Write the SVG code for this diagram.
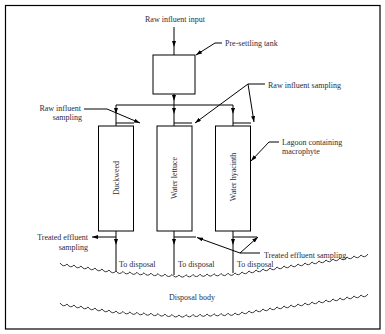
<svg xmlns="http://www.w3.org/2000/svg" width="385" height="334" viewBox="0 0 385 334">
<defs>
<marker id="ah" viewBox="0 0 6 4" refX="6" refY="2" markerWidth="6" markerHeight="4" markerUnits="userSpaceOnUse" orient="auto"><path d="M0,0 L6,2 L0,4 z" fill="#000"/></marker>
<style>
.ln{fill:none;stroke:#000;stroke-width:1}
.ar{fill:none;stroke:#000;stroke-width:1;marker-end:url(#ah)}
.mid{fill:none;stroke:#000;stroke-width:1;marker-mid:url(#ah)}
.box{fill:#fff;stroke:#000;stroke-width:1}
.t{font-family:"Liberation Serif","Times New Roman",serif;font-size:8px;fill:#2c2c3c}
.e{text-anchor:end}
.c{text-anchor:middle}
.wave{fill:none;stroke:#222;stroke-width:0.9}
</style>
</defs>
<rect x="5.5" y="5.5" width="374.5" height="323.5" fill="#fff" stroke="#000" stroke-width="1.2"/>

<g id="connectors">
<path class="mid" d="M174 27 L174 47 L174 55"/>
<path class="mid" d="M174 94 L174 101 L174 114 L174 126"/>
<path class="ln" d="M116 105 H233"/>
<path class="mid" d="M116 105 L116 114 L116 126"/>
<path class="mid" d="M233 105 L233 114 L233 126"/>
<path class="ln" d="M116 123 H134 M174 123 H192 M233 123 H251"/>
<path class="mid" d="M116 231 L116 245 L116 271"/>
<path class="mid" d="M174 231 L174 245 L174 275"/>
<path class="mid" d="M233 231 L233 245 L233 273"/>
<path class="ar" d="M116 237 L92 237"/>
<path class="ln" d="M174 237 H196"/>
<path class="ln" d="M233 237 H257"/>
</g>

<g id="pre-settling-tank">
<rect class="box" x="153" y="55" width="42" height="39"/>
<text class="t" x="225" y="46">Pre-settling tank</text>
<path class="ln" d="M215 43 H222"/>
<path class="ar" d="M215 43 L196 55"/>
</g>

<g id="raw-influent-input">
<text class="t c" x="175" y="22">Raw influent input</text>
</g>

<g id="duckweed">
<rect class="box" x="98.5" y="126" width="35" height="105"/>
<text class="t c" transform="translate(118.5 178) rotate(-90)">Duckweed</text>
</g>
<g id="water-lettuce">
<rect class="box" x="157" y="126" width="35" height="105"/>
<text class="t c" transform="translate(177 178) rotate(-90)">Water lettuce</text>
</g>
<g id="water-hyacinth">
<rect class="box" x="215.5" y="126" width="35" height="105"/>
<text class="t c" transform="translate(235.5 177) rotate(-90)">Water hyacinth</text>
</g>

<g id="raw-influent-sampling-left">
<text class="t e" x="81" y="110.5">Raw influent</text>
<text class="t e" x="82" y="120">sampling</text>
<path class="ln" d="M84 109 H107"/>
<path class="ar" d="M107 109 L140 123"/>
</g>

<g id="raw-influent-sampling-right">
<text class="t" x="268" y="87.5">Raw influent sampling</text>
<path class="ln" d="M248 84 H265"/>
<path class="ar" d="M248 84 L195 123"/>
<path class="ar" d="M248 84 L254 122"/>
</g>

<g id="lagoon-label">
<text class="t" x="282" y="145">Lagoon containing</text>
<text class="t" x="282" y="154">macrophyte</text>
<path class="ln" d="M269 142 H279"/>
<path class="ar" d="M269 142 L251 161"/>
</g>

<g id="treated-effluent-sampling-left">
<text class="t e" x="88" y="239.5">Treated effluent</text>
<text class="t e" x="88" y="249.5">sampling</text>
</g>

<g id="treated-effluent-sampling-right">
<text class="t" x="264" y="257.5">Treated effluent sampling</text>
<path class="ln" d="M240 253 H260"/>
<path class="ar" d="M240 253 L197 237.5"/>
<path class="ar" d="M240 253 L258 237"/>
</g>

<g id="disposal">
<text class="t" x="119" y="267">To disposal</text>
<text class="t" x="178" y="267">To disposal</text>
<text class="t" x="237" y="267">To disposal</text>
<path class="wave" d="M60 263 q3.5 5 7 1 q3.5 5 7 1 q3.5 5 7 1 q3.5 5 7 1 q3.5 5 7 1 q3.5 5 7 1 q3.5 5 7 1 q3.5 5 7 1 q3.5 4.7 7 0.44 q3.5 4.7 7 0.44 q3.5 4.7 7 0.44 q3.5 4.7 7 0.44 q3.5 4.7 7 0.44 q3.5 4.7 7 0.44 q3.5 4.7 7 0.44 q3.5 4.7 7 0.44 q3.5 4.7 7 0.44 q3.5 4.4 7 -0.25 q3.5 4.4 7 -0.25 q3.5 4.4 7 -0.25 q3.5 4.4 7 -0.25 q3.5 4.4 7 -0.25 q3.5 4.4 7 -0.25 q3.5 4.4 7 -0.25 q3.5 4.4 7 -0.25 q3.5 4 7 -1 q3.5 4 7 -1 q3.5 4 7 -1 q3.5 4 7 -1 q3.5 4 7 -1 q3.5 4 7 -1 q3.5 4 7 -1 q3.5 4 7 -1 q3.5 4 7 -1 q3.5 4 7 -1 q3.5 4 7 -1 q3.5 4 7 -1 q3.5 4 7 -1 q3.5 4 7 -1 q3.5 4 7 -1 q3.5 4 7 -1 q3.5 4 7 -1 q3.5 4 7 -1 q3.5 4 7 -1"/>
<path class="wave" transform="translate(0 40)" d="M60 263 q3.5 5 7 1 q3.5 5 7 1 q3.5 5 7 1 q3.5 5 7 1 q3.5 5 7 1 q3.5 5 7 1 q3.5 5 7 1 q3.5 5 7 1 q3.5 4.7 7 0.44 q3.5 4.7 7 0.44 q3.5 4.7 7 0.44 q3.5 4.7 7 0.44 q3.5 4.7 7 0.44 q3.5 4.7 7 0.44 q3.5 4.7 7 0.44 q3.5 4.7 7 0.44 q3.5 4.7 7 0.44 q3.5 4.4 7 -0.25 q3.5 4.4 7 -0.25 q3.5 4.4 7 -0.25 q3.5 4.4 7 -0.25 q3.5 4.4 7 -0.25 q3.5 4.4 7 -0.25 q3.5 4.4 7 -0.25 q3.5 4.4 7 -0.25 q3.5 4 7 -1 q3.5 4 7 -1 q3.5 4 7 -1 q3.5 4 7 -1 q3.5 4 7 -1 q3.5 4 7 -1 q3.5 4 7 -1 q3.5 4 7 -1 q3.5 4 7 -1 q3.5 4 7 -1 q3.5 4 7 -1 q3.5 4 7 -1 q3.5 4 7 -1 q3.5 4 7 -1 q3.5 4 7 -1 q3.5 4 7 -1 q3.5 4 7 -1 q3.5 4 7 -1 q3.5 4 7 -1"/>
<text class="t c" x="192" y="300">Disposal body</text>
</g>
</svg>
